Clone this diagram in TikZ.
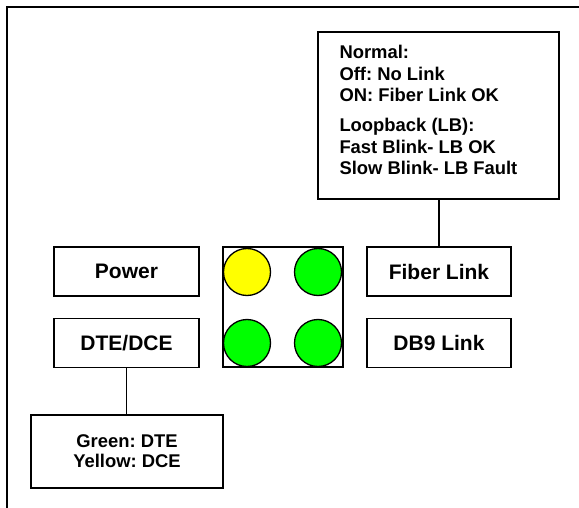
\documentclass[tikz,border=0pt]{standalone}
\usepackage{fontspec}
\setmainfont{Liberation Sans}
\frenchspacing
\definecolor{ledgreen}{HTML}{00FF00}
\definecolor{ledyellow}{HTML}{FFFF00}
\begin{document}
\begin{tikzpicture}[x=1pt,y=-1pt,
  labelbox/.style={draw,line width=1.6pt,minimum width=145pt,minimum height=49pt,inner sep=0pt,
    font=\fontsize{21}{25}\selectfont\bfseries},
  notebox/.style={draw,line width=1.6pt,inner sep=0pt},
  notetext/.style={inner sep=0pt,anchor=base west,font=\fontsize{18.4}{21.3}\selectfont\bfseries},
  led/.style={circle,draw,line width=1.3pt,minimum size=47pt,inner sep=0pt},
  link/.style={line width=1.6pt}]
\useasboundingbox (0,0) rectangle (579,508);
% frame
\coordinate (fa) at (6.5,508);
\coordinate (fb) at (6.5,7);
\coordinate (fc) at (579,7);
\draw[line width=2pt] (fa) -- (fb) -- (fc);
% info box top right
\node[notebox,minimum width=241pt,minimum height=167pt] (info) at (438.5,115.5) {};
\node[notetext] (n1) at (339.3,59) {Normal:};
\node[notetext] (n2) at (339.3,80.5) {Off: No Link};
\node[notetext] (n3) at (339.3,101.8) {ON: Fiber Link OK};
\node[notetext] (n4) at (339.3,131.7) {Loopback (LB):};
\node[notetext] (n5) at (339.3,153.3) {Fast Blink- LB OK};
\node[notetext] (n6) at (339.3,175) {Slow Blink- LB Fault};
% label boxes
\node[labelbox] (power) at (126.5,271.5) {Power};
\node[labelbox] (dte) at (126.5,343) {DTE/DCE};
\node[labelbox,minimum width=144pt] (fiber) at (439,271.5) {Fiber Link};
\node[labelbox,minimum width=144pt] (db9) at (439,343) {DB9 Link};
% LED panel
\node[draw,line width=1.6pt,minimum size=120pt,inner sep=0pt] (panel) at (283,307) {};
\node[led,fill=ledyellow] (l1) at (247,272) {};
\node[led,fill=ledgreen] (l2) at (318,272) {};
\node[led,fill=ledgreen] (l3) at (247,343) {};
\node[led,fill=ledgreen] (l4) at (318,343) {};
% DTE note
\node[notebox,minimum width=192pt,minimum height=73pt,align=center,
  font=\fontsize{18.4}{20}\selectfont\bfseries] (dtenote) at (127,451.5) {Green: DTE\\Yellow: DCE};
% connectors
\draw[link] (info.south -| fiber.north) -- (fiber.north);
\draw[link] (dte.south) -- (dtenote.north -| dte.south);
\end{tikzpicture}
\end{document}
